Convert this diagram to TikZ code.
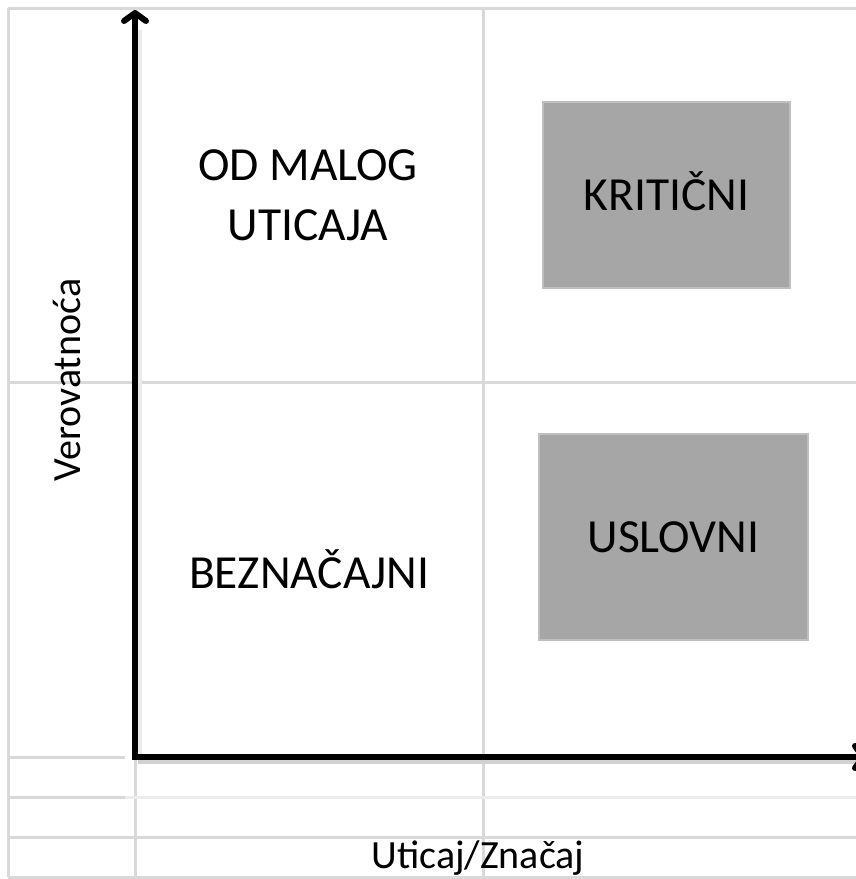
\documentclass[tikz,border=0pt]{standalone}
\usepackage{fontspec}
\setmainfont{Carlito}
\usetikzlibrary{arrows.meta}
\definecolor{gridgray}{HTML}{D9D9D9}
\definecolor{gridlight}{HTML}{ECECEC}
\definecolor{boxfill}{HTML}{A6A6A6}
\definecolor{boxline}{HTML}{BFBFBF}
\tikzset{
  gridline/.style={draw=gridgray, line width=3pt},
  gridfaint/.style={draw=gridlight, line width=3pt},
  axisline/.style={draw=black, line width=6pt, line join=miter,
    {Straight Barb[length=8pt,width=22pt,round]}-{Straight Barb[length=8pt,width=22pt,round]}},
  axisshadow/.style={draw=black!18, line width=6pt},
  quadbox/.style={fill=boxfill, draw=boxline, line width=2pt, inner sep=0pt,
    text height=30pt, text depth=0pt, font=\fontsize{47.5}{60}\selectfont},
  biglabel/.style={font=\fontsize{47.5}{60}\selectfont, inner sep=0pt, align=center},
  axislabel/.style={font=\fontsize{40}{48}\selectfont, inner sep=0pt}
}
\begin{document}
\begin{tikzpicture}[x=1pt,y=-1pt]
\useasboundingbox (0,0) rectangle (856,879);
\clip (0,0) rectangle (856,879);
\fill[white] (0,0) rectangle (856,879);
% sheet grid
\draw[gridline] (8,8) -- (856,8);
\draw[gridline] (8,877) -- (856,877);
\draw[gridline] (8,8) -- (8,877);
\draw[gridline] (483,8) -- (483,877);
\draw[gridline] (135,757) -- (135,877);
\draw[gridline] (8,382) -- (856,382);
\draw[gridline] (8,757) -- (125,757);
\draw[gridline] (8,797) -- (125,797);
\draw[gridfaint] (125,797) -- (856,797);
\draw[gridline] (8,837) -- (856,837);
% axes
\coordinate (o) at (135,757);
\coordinate (ytip) at (135,10);
\coordinate (xtip) at (866,757);
\draw[axisshadow] (138,761) -- (866,761);
\draw[axisshadow, draw=black!8] (139,30) -- (139,757);
\draw[axisline] (ytip) -- (o) -- (xtip);
% quadrant boxes
\node[quadbox, minimum width=247pt, minimum height=186pt] (krit) at (666.5,195) {KRITIČNI};
\node[quadbox, minimum width=269pt, minimum height=206pt] (uslov) at (673.5,537) {USLOVNI};
% labels
\node[biglabel, anchor=base] (odmalog) at (308,240) {OD MALOG\\UTICAJA};
\node[biglabel, anchor=base] (beznac) at (309,588) {BEZNAČAJNI};
\node[axislabel, anchor=base, rotate=90] (verov) at (80,380) {Verovatnoća};
\node[axislabel, anchor=base] (uticaj) at (478,868) {Uticaj/Značaj};
\end{tikzpicture}
\end{document}
